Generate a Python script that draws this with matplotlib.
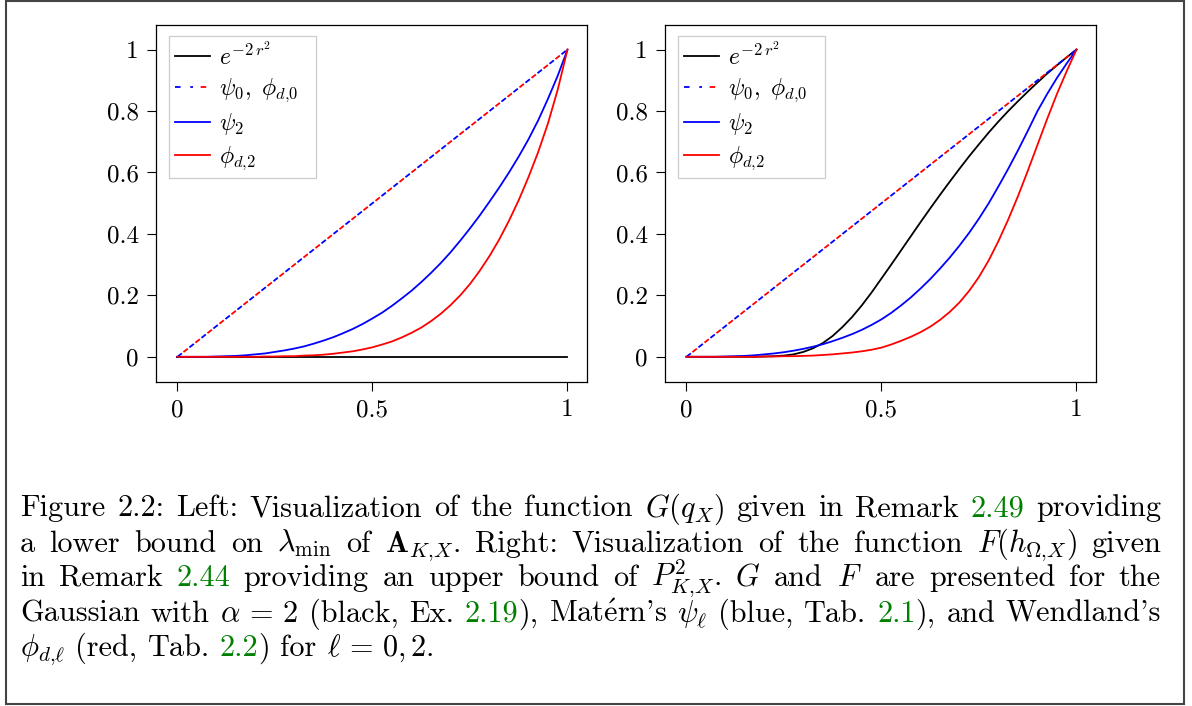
import matplotlib
matplotlib.use('Agg')
import matplotlib.pyplot as plt
from matplotlib.patches import Rectangle
from matplotlib.legend_handler import HandlerTuple
from matplotlib.transforms import IdentityTransform

plt.rcParams['font.family'] = 'serif'
plt.rcParams['font.serif'] = ['cmr10']
plt.rcParams['mathtext.fontset'] = 'cm'
plt.rcParams['axes.unicode_minus'] = False
plt.rcParams['axes.formatter.use_mathtext'] = True
plt.rcParams['lines.scale_dashes'] = False

# ---- data ----
r = [0.0, 0.025, 0.05, 0.075, 0.1, 0.125, 0.15, 0.175, 0.2, 0.225,
     0.25, 0.275, 0.3, 0.325, 0.35, 0.375, 0.4, 0.425, 0.45, 0.475,
     0.5, 0.525, 0.55, 0.575, 0.6, 0.625, 0.65, 0.675, 0.7, 0.725,
     0.75, 0.775, 0.8, 0.825, 0.85, 0.875, 0.9, 0.925, 0.95, 0.975, 1.0]
r_line = [0.0, 1.0]
psi0_line = [0.0, 1.0]          # psi_0 and phi_{d,0} coincide

# left panel: G(q_X)
left_gauss = [0.0, 0.0]
left_psi2 = [0.0, 0.0, 0.0, 0.0, 0.001, 0.002, 0.003, 0.005, 0.008, 0.011,
             0.016, 0.021, 0.027, 0.034, 0.043, 0.053, 0.064, 0.077, 0.091, 0.107,
             0.125, 0.144, 0.166, 0.19, 0.215, 0.243, 0.273, 0.305, 0.34, 0.378,
             0.418, 0.46, 0.505, 0.551, 0.60, 0.652, 0.708, 0.77, 0.84, 0.915, 1.0]
left_phi2 = [0.0, 0.0, 0.0, 0.0, 0.0, 0.0, 0.0, 0.0, 0.0, 0.001,
             0.001, 0.002, 0.002, 0.004, 0.005, 0.007, 0.01, 0.014, 0.018, 0.024,
             0.031, 0.04, 0.05, 0.063, 0.078, 0.095, 0.116, 0.14, 0.168, 0.2,
             0.237, 0.28, 0.328, 0.382, 0.443, 0.51, 0.585, 0.667, 0.76, 0.87, 1.0]

# right panel: F(h_{Omega,X})
right_gauss = [0.0, 0.0, 0.0, 0.0, 0.0, 0.0, 0.0, 0.0, 0.001, 0.002,
               0.004, 0.008, 0.016, 0.028, 0.045, 0.068, 0.097, 0.13, 0.168, 0.21,
               0.255, 0.30, 0.346, 0.392, 0.438, 0.483, 0.527, 0.57, 0.612, 0.653,
               0.692, 0.73, 0.766, 0.80, 0.832, 0.863, 0.893, 0.922, 0.949, 0.975, 1.0]
right_psi2 = [0.0, 0.0, 0.0, 0.0, 0.001, 0.002, 0.003, 0.005, 0.008, 0.011,
              0.015, 0.02, 0.026, 0.033, 0.041, 0.051, 0.062, 0.074, 0.088, 0.104,
              0.122, 0.143, 0.167, 0.193, 0.222, 0.253, 0.287, 0.323, 0.362, 0.404,
              0.45, 0.50, 0.555, 0.612, 0.672, 0.735, 0.80, 0.856, 0.908, 0.955, 1.0]
right_phi2 = [0.0, 0.0, 0.0, 0.0, 0.0, 0.0, 0.0, 0.0, 0.001, 0.001,
              0.002, 0.002, 0.003, 0.004, 0.006, 0.008, 0.011, 0.014, 0.018, 0.023,
              0.03, 0.04, 0.052, 0.065, 0.08, 0.098, 0.12, 0.146, 0.177, 0.215,
              0.26, 0.314, 0.377, 0.447, 0.523, 0.605, 0.69, 0.775, 0.856, 0.93, 1.0]

xticks = [0, 0.5, 1]
xticklabels = ['0', '0.5', '1']
yticks = [0, 0.2, 0.4, 0.6, 0.8, 1]
yticklabels = ['0', '0.2', '0.4', '0.6', '0.8', '1']
labels = [r'$e^{-2\,r^2}$', r'$\psi_0,\ \phi_{d{,}0}$', r'$\psi_2$', r'$\phi_{d{,}2}$']

W, H = 1192, 706
fig = plt.figure(figsize=(W / 100, H / 100), dpi=100)

def panel(x0_px, gauss_r, gauss, psi2, phi2):
    ax = fig.add_axes([x0_px / W, 1 - 382 / H, 431 / W, 357 / H])
    k, = ax.plot(gauss_r, gauss, color='black', lw=1.3)
    b, = ax.plot(r_line, psi0_line, color='blue', lw=1.3, linestyle=(0, (4, 7)))
    rd, = ax.plot(r_line, psi0_line, color='red', lw=1.3, linestyle=(5.5, (4, 7)))
    p, = ax.plot(r, psi2, color='blue', lw=1.3)
    f, = ax.plot(r, phi2, color='red', lw=1.3)
    ax.set_xlim(-0.055, 1.05)
    ax.set_ylim(-0.082, 1.08)
    ax.set_xticks(xticks)
    ax.set_xticklabels(xticklabels)
    ax.set_yticks(yticks)
    ax.set_yticklabels(yticklabels)
    ax.tick_params(direction='out', length=6.5, width=0.8, labelsize=18, pad=6,
                   top=False, right=False)
    for s in ax.spines.values():
        s.set_linewidth(0.9)
    top = 1 - 11 / 357
    leg = ax.legend([k, (b, rd), p, f], labels,
                    handler_map={tuple: HandlerTuple(ndivide=None, pad=0)},
                    loc='upper left', bbox_to_anchor=(13 / 431, top - 0.5, 147 / 431, 0.5),
                    mode='expand', borderaxespad=0, fontsize=17, handlelength=1.5,
                    handletextpad=0.35, labelspacing=0.3, borderpad=0.25,
                    fancybox=False, framealpha=1, edgecolor='#cccccc')
    leg.get_frame().set_linewidth(0.9)
    return ax

panel(156, r_line, left_gauss, left_psi2, left_phi2)
panel(665, r, right_gauss, right_psi2, right_phi2)

# outer frame
fig.add_artist(Rectangle((6 / W, 2 / H), 1178 / W, 703 / H, transform=fig.transFigure,
                         fill=False, ec='#444444', lw=1.5))

# ---- caption (justified) ----
G = '#008000'
K = 'black'
caption = [
    [[('Figure', K)], [('2.2:', K)], [('Left:', K)], [('Visualization', K)], [('of', K)],
     [('the', K)], [('function', K)], [(r'$G(q_X)$', K)], [('given', K)], [('in', K)],
     [('Remark', K)], [('2.49', G)], [('providing', K)]],
    [[('a', K)], [('lower', K)], [('bound', K)], [('on', K)], [(r'$\lambda_{\min}$', K)],
     [('of', K)], [(r'$\mathbf{A}_{K{,}X}$.', K)], [('Right:', K)], [('Visualization', K)],
     [('of', K)], [('the', K)], [('function', K)], [(r'$F(h_{\Omega{,}X})$', K)], [('given', K)]],
    [[('in', K)], [('Remark', K)], [('2.44', G)], [('providing', K)], [('an', K)],
     [('upper', K)], [('bound', K)], [('of', K)], [(r'$P^2_{K{,}X}$.', K)], [(r'$G$', K)],
     [('and', K)], [(r'$F$', K)], [('are', K)], [('presented', K)], [('for', K)], [('the', K)]],
    [[('Gaussian', K)], [('with', K)], [(r'$\alpha\,=\,2$', K)], [('(black,', K)], [('Ex.', K)],
     [('2.19', G), ('),', K)], [(r'$\mathrm{Mat\acute{e}rn}$' + "'s", K)], [(r'$\psi_\ell$', K)],
     [('(blue,', K)], [('Tab.', K)], [('2.1', G), ('),', K)], [('and', K)], [("Wendland's", K)]],
    [[(r'$\phi_{d{,}\ell}$', K)], [('(red,', K)], [('Tab.', K)], [('2.2', G), (')', K)],
     [('for', K)], [(r'$\ell\,=\,0{,}\,2$.', K)]],
]
baselines = [516.5, 551.5, 585.5, 621.5, 656]
left_px, right_px = 20, 1161
cap_fs = 21.8

renderer = fig.canvas.get_renderer()
for li, (words, yb) in enumerate(zip(caption, baselines)):
    y = H - yb
    objs = []
    widths = []
    for word in words:
        row = []
        w = 0
        for s, c in word:
            t = fig.text(0, y, s, color=c, fontsize=cap_fs, va='baseline', ha='left',
                         transform=IdentityTransform())
            tw = t.get_window_extent(renderer).width
            row.append((t, tw))
            w += tw
        objs.append(row)
        widths.append(w)
    if li < len(caption) - 1:
        gap = (right_px - left_px - sum(widths)) / (len(words) - 1)
    else:
        gap = 0.333 * cap_fs * 100 / 72
    x = left_px
    for row, w in zip(objs, widths):
        xx = x
        for t, tw in row:
            t.set_x(xx)
            xx += tw
        x += w + gap

fig.savefig('out.png', dpi=100)
